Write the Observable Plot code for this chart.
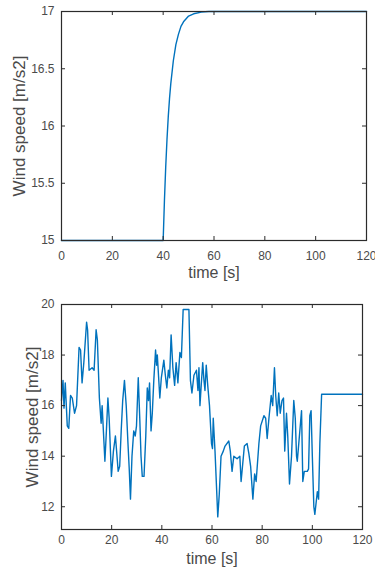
<!DOCTYPE html>
<html>
<head>
<meta charset="utf-8">
<script src="https://cdn.jsdelivr.net/npm/d3@7"></script>
<script src="https://cdn.jsdelivr.net/npm/@observablehq/plot@0.6"></script>
<style>
  body { margin: 0; background: #fff; }
  #top, #bottom { width: 375px; }
  .ylab text { font-size: 17px; }
</style>
</head>
<body>
<div id="top"></div>
<div id="bottom"></div>
<script>
// ---- data ----
const xTicks = [0, 20, 40, 60, 80, 100, 120];
const yTicksTop = [15, 15.5, 16, 16.5, 17];
const yTicksBottom = [12, 14, 16, 18, 20];

const topTime  = [0, 40, 40.5, 41, 41.5, 42, 42.5, 43, 44, 45, 46, 47, 48, 50, 52, 55, 58, 120];
const topSpeed = [15, 15, 15.35, 15.64, 15.88, 16.08, 16.24, 16.37, 16.57, 16.71, 16.80, 16.87, 16.91, 16.96, 16.98, 16.995, 17, 17];

const bottomTime = [0, 0.6, 1.0, 1.5, 2.3, 2.9, 3.6, 4.3, 5.2, 6.0, 7.0, 7.6, 8.2, 8.9, 10.0, 10.4, 11.0, 12.2, 13.0, 13.8,
  14.3, 15.1, 15.8, 16.2, 16.6, 17.3, 17.9, 18.5, 19.0, 19.4, 19.9, 20.7, 21.5, 22.6, 23.2, 23.8, 24.4, 25.1, 25.8, 26.5,
  27.0, 27.5, 28.1, 28.8, 29.4, 29.9, 30.6, 31.2, 31.7, 32.2, 32.9, 33.6, 34.2, 34.7, 35.1, 35.7, 36.2, 36.8, 37.5, 37.9,
  38.2, 39.2, 39.8, 40.8, 41.4, 42.0, 42.6, 43.1, 43.7, 44.4, 45.1, 45.7, 46.4, 47.2, 47.8, 48.5, 50.8, 51.4, 52.0, 52.8,
  53.8, 54.4, 54.8, 55.2, 55.7, 56.3, 56.8, 57.2, 57.7, 58.3, 59.0, 59.8, 60.2, 60.5, 61.2, 62.3, 62.9, 63.6, 64.5, 65.2,
  66.7, 67.3, 68.0, 68.7, 70.0, 71.1, 71.6, 72.9, 74.0, 74.7, 75.4, 76.3, 77.0, 77.6, 78.7, 79.4, 80.7, 81.4, 82.0, 82.7,
  83.6, 84.2, 84.9, 85.4, 86.0, 86.6, 87.2, 87.9, 88.5, 89.0, 89.7, 90.2, 90.9, 91.7, 92.6, 93.2, 93.7, 94.0, 95.7, 96.2,
  96.8, 98.0, 98.5, 99.0, 99.5, 100.0, 100.6, 101.0, 102.0, 102.5, 103.0, 103.7, 120];
const bottomSpeed = [16.2, 17.0, 15.9, 16.9, 15.2, 15.1, 16.4, 16.3, 15.7, 16.0, 18.3, 18.2, 16.9, 17.7, 19.3, 19.0, 17.4, 17.5, 17.4, 19.0,
  18.6, 16.3, 15.3, 16.0, 15.2, 13.8, 15.0, 16.3, 15.5, 14.5, 13.2, 14.2, 14.8, 13.4, 13.6, 15.0, 16.2, 17.0, 16.0, 14.5,
  13.5, 12.3, 14.0, 15.0, 14.8, 15.2, 17.1, 15.5, 14.0, 13.2, 13.2, 14.8, 16.7, 16.2, 16.9, 15.0, 15.7, 17.0, 18.2, 17.6,
  18.0, 16.3, 17.1, 17.8, 17.2, 16.7, 17.4, 17.1, 18.8, 17.5, 16.8, 17.7, 16.9, 18.1, 17.9, 19.8, 19.8, 17.0, 16.5, 17.2,
  17.4, 16.6, 17.5, 16.0, 16.8, 17.7, 17.0, 16.6, 17.6, 16.8, 16.0, 14.5, 14.3, 15.5, 14.2, 11.6, 12.5, 14.0, 14.2, 14.4,
  14.6, 14.2, 13.4, 14.0, 13.9, 14.0, 13.0, 14.4, 14.5, 14.1, 13.6, 12.3, 13.3, 13.0, 14.5, 15.2, 15.6, 15.5, 14.7, 15.5,
  16.4, 16.0, 17.5, 16.4, 15.6, 16.5, 15.7, 16.2, 16.3, 14.2, 15.7, 14.8, 12.9, 14.0, 16.2, 15.5, 14.0, 13.8, 15.8, 13.0,
  13.4, 13.4, 13.5, 15.6, 15.8, 14.0, 12.0, 11.7, 12.6, 12.3, 14.5, 16.45, 16.45];

const xLabel = "time [s]";
const yLabel = "Wind speed [m/s2]";

// ---- drawing ----
const lineColor = "#0072BD";
const frameColor = "#2b2b2b";
const textColor = "#4a4a4a";
const style = {fontFamily: "'Liberation Sans', Arial, sans-serif", fontSize: "12px", color: textColor, background: "#fff"};
const fmt = d => String(d);
const TICK = 4;

function chart({time, speed, yDomain, yTicks, height, marginTop, marginBottom, marginRight, xPad, xLabelOffset, yLabelOffset}) {
  const data = time.map((t, i) => ({t, v: speed[i]}));
  const innerH = height - marginTop - marginBottom;
  const innerW = 375 - 61 - marginRight;
  return Plot.plot({
    width: 375,
    height,
    marginTop,
    marginBottom,
    marginLeft: 61,
    marginRight,
    style,
    x: {domain: [0, 120]},
    y: {domain: yDomain},
    marks: [
      Plot.line(data, {x: "t", y: "v", stroke: lineColor, strokeWidth: 1.4}),
      // inward ticks on all four sides
      Plot.tickX(xTicks, {x: d => d, insetTop: innerH - TICK, stroke: frameColor}),
      Plot.tickX(xTicks, {x: d => d, insetBottom: innerH - TICK, stroke: frameColor}),
      Plot.tickY(yTicks, {y: d => d, insetRight: innerW - TICK, stroke: frameColor}),
      Plot.tickY(yTicks, {y: d => d, insetLeft: innerW - TICK, stroke: frameColor}),
      Plot.axisX(xTicks, {anchor: "bottom", tickSize: 0, tickPadding: xPad, tickFormat: fmt, label: null}),
      Plot.axisX({anchor: "bottom", ticks: [], label: xLabel, labelAnchor: "center", labelArrow: "none",
        labelOffset: xLabelOffset, fontSize: 16}),
      Plot.axisY(yTicks, {anchor: "left", tickSize: 0, tickPadding: 7, tickFormat: fmt, label: null}),
      Plot.axisY({anchor: "left", ticks: [], label: yLabel, labelAnchor: "center", labelArrow: "none",
        labelOffset: yLabelOffset, fontSize: 17}),
      Plot.frame({stroke: frameColor, strokeWidth: 1.2})
    ]
  });
}

document.getElementById("top").append(chart({
  time: topTime, speed: topSpeed, yDomain: [15, 17], yTicks: yTicksTop,
  height: 290, marginTop: 11, marginBottom: 50, marginRight: 9, xPad: 11, xLabelOffset: 37, yLabelOffset: 49
}));
document.getElementById("bottom").append(chart({
  time: bottomTime, speed: bottomSpeed, yDomain: [11.1, 20], yTicks: yTicksBottom,
  height: 287, marginTop: 14, marginBottom: 48, marginRight: 13, xPad: 6, xLabelOffset: 34, yLabelOffset: 36
}));
</script>
</body>
</html>
